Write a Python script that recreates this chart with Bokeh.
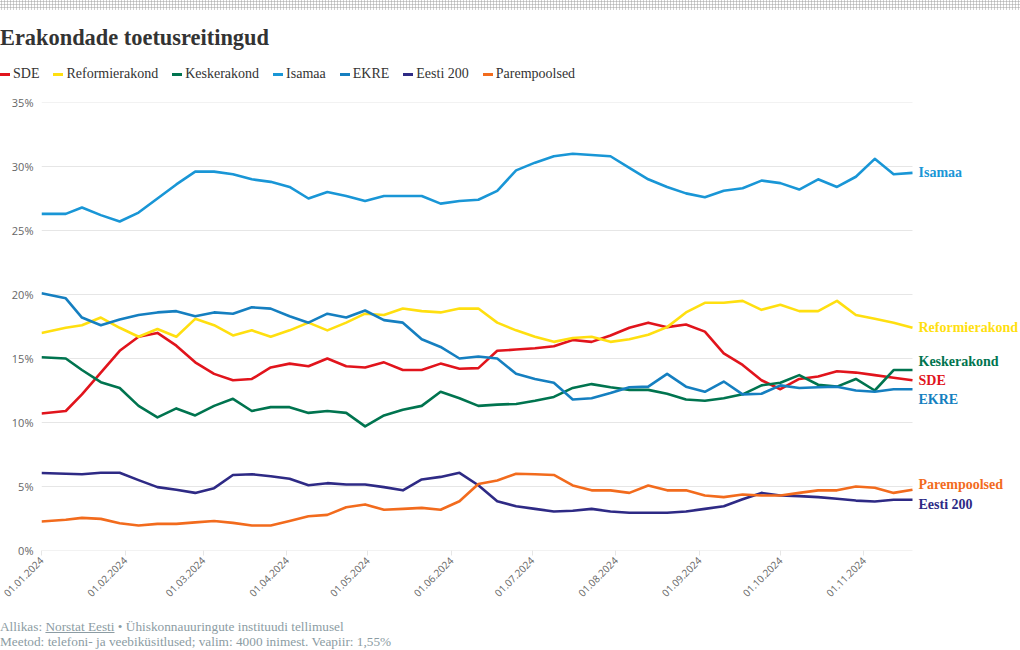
import math
import pandas as pd
from bokeh.plotting import figure
from bokeh.layouts import column
from bokeh.models import (ColumnDataSource, LabelSet, FixedTicker, DatetimeTickFormatter,
                          PrintfTickFormatter, Range1d, Div)
from bokeh.embed import file_html
from bokeh.resources import INLINE
from bokeh.core.properties import value

# ---------------- data ----------------
dates = ["2024-01-01", "2024-01-10", "2024-01-16", "2024-01-23", "2024-01-30",
         "2024-02-06", "2024-02-13", "2024-02-20", "2024-02-27",
         "2024-03-05", "2024-03-12", "2024-03-19", "2024-03-26",
         "2024-04-02", "2024-04-09", "2024-04-16", "2024-04-23", "2024-04-30",
         "2024-05-07", "2024-05-14", "2024-05-21", "2024-05-28",
         "2024-06-04", "2024-06-11", "2024-06-18", "2024-06-25",
         "2024-07-02", "2024-07-09", "2024-07-16", "2024-07-23", "2024-07-30",
         "2024-08-06", "2024-08-13", "2024-08-20", "2024-08-27",
         "2024-09-03", "2024-09-10", "2024-09-17", "2024-09-24",
         "2024-10-01", "2024-10-08", "2024-10-15", "2024-10-22", "2024-10-29",
         "2024-11-05", "2024-11-12", "2024-11-19"]

sde = [10.7, 10.9, 12.2, 13.9, 15.6, 16.7, 17.0, 16.0, 14.7, 13.8,
       13.3, 13.4, 14.3, 14.6, 14.4, 15.0, 14.4, 14.3, 14.7, 14.1,
       14.1, 14.6, 14.2, 14.25, 15.6, 15.7, 15.8, 15.96, 16.45, 16.3,
       16.8, 17.4, 17.8, 17.45, 17.65, 17.1, 15.4, 14.5, 13.3, 12.6,
       13.4, 13.6, 14.0, 13.9, 13.7, 13.5, 13.3]
reformierakond = [17.0, 17.4, 17.6, 18.2, 17.4, 16.7, 17.3, 16.7, 18.1, 17.6,
                  16.8, 17.2, 16.7, 17.2, 17.8, 17.2, 17.8, 18.5, 18.4, 18.9,
                  18.7, 18.6, 18.9, 18.9, 17.8, 17.2, 16.7, 16.3, 16.6, 16.7,
                  16.3, 16.5, 16.85, 17.45, 18.6, 19.35, 19.35, 19.5, 18.8, 19.2,
                  18.7, 18.7, 19.5, 18.4, 18.1, 17.8, 17.4]
keskerakond = [15.1, 15.0, 14.1, 13.15, 12.7, 11.3, 10.4, 11.1, 10.55, 11.3,
               11.85, 10.9, 11.2, 11.2, 10.75, 10.9, 10.75, 9.7, 10.55, 11.0,
               11.3, 12.4, 11.9, 11.3, 11.4, 11.45, 11.7, 12.0, 12.7, 13.0,
               12.75, 12.55, 12.55, 12.25, 11.8, 11.7, 11.9, 12.2, 12.9, 13.1,
               13.7, 12.95, 12.8, 13.4, 12.5, 14.1, 14.1]
isamaa = [26.3, 26.3, 26.8, 26.2, 25.7, 26.4, 27.5, 28.6, 29.6, 29.6,
          29.4, 29.0, 28.8, 28.4, 27.5, 28.0, 27.7, 27.3, 27.7, 27.7,
          27.7, 27.1, 27.3, 27.4, 28.1, 29.7, 30.3, 30.8, 31.0, 30.9,
          30.8, 29.9, 29.0, 28.4, 27.9, 27.6, 28.1, 28.3, 28.9, 28.7,
          28.2, 29.0, 28.4, 29.2, 30.6, 29.4, 29.5]
ekre = [20.1, 19.7, 18.2, 17.6, 18.05, 18.4, 18.6, 18.7, 18.3, 18.6,
        18.5, 19.0, 18.9, 18.3, 17.8, 18.5, 18.2, 18.75, 18.0, 17.8,
        16.5, 15.9, 15.0, 15.15, 15.0, 13.8, 13.4, 13.1, 11.8, 11.9,
        12.3, 12.75, 12.8, 13.8, 12.8, 12.4, 13.2, 12.2, 12.25, 12.9,
        12.7, 12.75, 12.8, 12.5, 12.4, 12.6, 12.6]
eesti200 = [6.05, 6.0, 5.96, 6.07, 6.07, 5.5, 4.95, 4.74, 4.5, 4.87,
            5.9, 5.96, 5.8, 5.6, 5.1, 5.26, 5.16, 5.16, 4.95, 4.7,
            5.55, 5.75, 6.07, 5.1, 3.85, 3.46, 3.25, 3.05, 3.1, 3.25,
            3.05, 2.95, 2.95, 2.95, 3.05, 3.25, 3.46, 4.0, 4.5, 4.3,
            4.25, 4.17, 4.04, 3.9, 3.83, 3.96, 3.96]
parempoolsed = [2.27, 2.4, 2.55, 2.47, 2.13, 1.95, 2.08, 2.08, 2.2, 2.3,
                2.16, 1.95, 1.95, 2.3, 2.68, 2.78, 3.38, 3.6, 3.18, 3.25,
                3.33, 3.18, 3.85, 5.2, 5.47, 6.0, 5.96, 5.9, 5.08, 4.7,
                4.7, 4.5, 5.08, 4.7, 4.7, 4.3, 4.17, 4.37, 4.3, 4.3,
                4.5, 4.7, 4.7, 5.0, 4.9, 4.5, 4.74]

parties = ["SDE", "Reformierakond", "Keskerakond", "Isamaa", "EKRE", "Eesti 200", "Parempoolsed"]
series = [sde, reformierakond, keskerakond, isamaa, ekre, eesti200, parempoolsed]
colors = ["#e1141c", "#ffdf10", "#00744f", "#1996d6", "#157fc0", "#2e2a85", "#f26b1d"]
# pixel nudges of the end labels (to avoid overlap), positive = up
label_nudge = [0, 0, 9, 0, -10, -5, 5]

x_tick_dates = ["2024-01-01", "2024-02-01", "2024-03-01", "2024-04-01", "2024-05-01", "2024-06-01",
                "2024-07-01", "2024-08-01", "2024-09-01", "2024-10-01", "2024-11-01"]
y_ticks = [0, 5, 10, 15, 20, 25, 30, 35]

title_text = "Erakondade toetusreitingud"
source_pre = "Allikas: "
source_link = "Norstat Eesti"
source_post = " • Ühiskonnauuringute instituudi tellimusel"
method_text = "Meetod: telefoni- ja veebiküsitlused; valim: 4000 inimest. Veapiir: 1,55%"

# ---------------- layout constants ----------------
W = 1020
TOP_H = 94          # header block (dots, title, legend)
FOOT_H = 40         # footer block
FIG_H = 650 - TOP_H - FOOT_H
FL = 41             # frame left
LINE_END_PX = 912   # where the series end on the canvas
SERIF = "Liberation Serif"
SANS = "Open Sans"

x = pd.to_datetime(dates)
ms = lambda d: pd.Timestamp(d).value / 1e6
x0, x1 = ms(dates[0]), ms(dates[-1])
# extend the frame to the right edge so that end labels stay visible
px_per_ms = (LINE_END_PX - FL) / (x1 - x0)
x_end = x1 + (W - LINE_END_PX) / px_per_ms

p = figure(width=W, height=FIG_H, x_axis_type="datetime", output_backend="svg", toolbar_location=None,
           x_range=Range1d(x0, x_end), y_range=Range1d(0, 35),
           min_border_left=FL, min_border_right=0, min_border_top=8, min_border_bottom=60)
p.outline_line_color = None
p.background_fill_color = "white"
p.border_fill_color = "white"
p.xgrid.grid_line_color = None
p.ygrid.grid_line_color = None

# horizontal grid lines only across the data span
grid_src = ColumnDataSource(dict(x0=[x[0]] * len(y_ticks), x1=[x[-1]] * len(y_ticks), y=y_ticks))
p.segment("x0", "y", "x1", "y", source=grid_src, line_color="#e6e6e6", line_width=1)

renderers = []
for name, vals, col in zip(parties, series, colors):
    src = ColumnDataSource(dict(x=x, y=vals))
    r = p.line("x", "y", source=src, line_color=col, line_width=2.6, line_join="round")
    renderers.append(r)

xa = p.xaxis[0]
xa.ticker = FixedTicker(ticks=[ms(d) for d in x_tick_dates])
fmt = "%d.%m.%Y"
xa.formatter = DatetimeTickFormatter(microseconds=fmt, milliseconds=fmt, seconds=fmt, minsec=fmt,
                                     minutes=fmt, hourmin=fmt, hours=fmt, days=fmt, months=fmt, years=fmt)
xa.major_label_orientation = math.pi / 4
xa.axis_line_color = None
xa.major_tick_line_color = "#e6e6e6"
xa.major_tick_out = 5
xa.major_tick_in = 0
xa.minor_tick_line_color = None
xa.minor_tick_out = 0
xa.major_label_text_font = SANS
xa.major_label_text_font_size = "10px"
xa.major_label_text_color = "#666666"
xa.major_label_standoff = 3

ya = p.yaxis[0]
ya.ticker = FixedTicker(ticks=y_ticks)
ya.formatter = PrintfTickFormatter(format="%d%%")
ya.axis_line_color = None
ya.major_tick_line_color = None
ya.major_tick_out = 0
ya.major_tick_in = 0
ya.minor_tick_line_color = None
ya.minor_tick_out = 0
ya.major_label_text_font = SANS
ya.major_label_text_font_size = "11px"
ya.major_label_text_color = "#666666"
ya.major_label_standoff = 8

# end labels
end_src = ColumnDataSource(dict(x=[x[-1]] * len(parties), y=[s[-1] for s in series],
                                text=parties, color=colors, dy=label_nudge))
p.add_layout(LabelSet(x="x", y="y", text="text", source=end_src, text_color="color",
                      x_offset=6, y_offset="dy", text_font=value(SERIF), text_font_style="bold",
                      text_font_size="14px", text_baseline="middle", text_align="left"))

# ---------------- header (dots, title, legend) ----------------
legend_items = "".join(
    f'<span style="display:inline-flex;align-items:center;margin-right:14px;">'
    f'<span style="display:inline-block;width:10px;height:3px;background:{c};margin-right:3px;"></span>'
    f'<span>{n}</span></span>'
    for n, c in zip(parties, colors))
header_html = (
    f'<div style="position:relative;width:{W}px;height:{TOP_H}px;overflow:hidden;">'
    f'<div style="position:absolute;left:0;top:0;width:{W}px;height:10px;'
    f'background-image:radial-gradient(circle,#b8b8b8 0.9px,transparent 1.2px);background-size:3px 3px;"></div>'
    f'<div style="position:absolute;left:0;top:27px;font-family:\'{SERIF}\';font-weight:bold;font-size:22.4px;'
    f'line-height:22px;color:#333333;white-space:nowrap;">{title_text}</div>'
    f'<div style="position:absolute;left:0;top:66px;font-family:\'{SERIF}\';font-size:14px;line-height:16px;'
    f'color:#333333;white-space:nowrap;display:flex;">{legend_items}</div>'
    f'</div>')
header = Div(text=header_html, width=W, height=TOP_H, margin=(0, 0, 0, 0))

FOOT = "#8c9ca3"
footer_html = (
    f'<div style="position:relative;width:{W}px;height:{FOOT_H}px;font-family:\'{SERIF}\';font-size:13.3px;'
    f'line-height:15px;color:{FOOT};white-space:nowrap;padding-top:9px;box-sizing:border-box;">'
    f'<div>{source_pre}<span style="text-decoration:underline;">{source_link}</span>{source_post}</div>'
    f'<div>{method_text}</div></div>')
footer = Div(text=footer_html, width=W, height=FOOT_H, margin=(0, 0, 0, 0))

layout = column(header, p, footer, spacing=0)

open("out.html", "w").write(file_html(layout, INLINE))
